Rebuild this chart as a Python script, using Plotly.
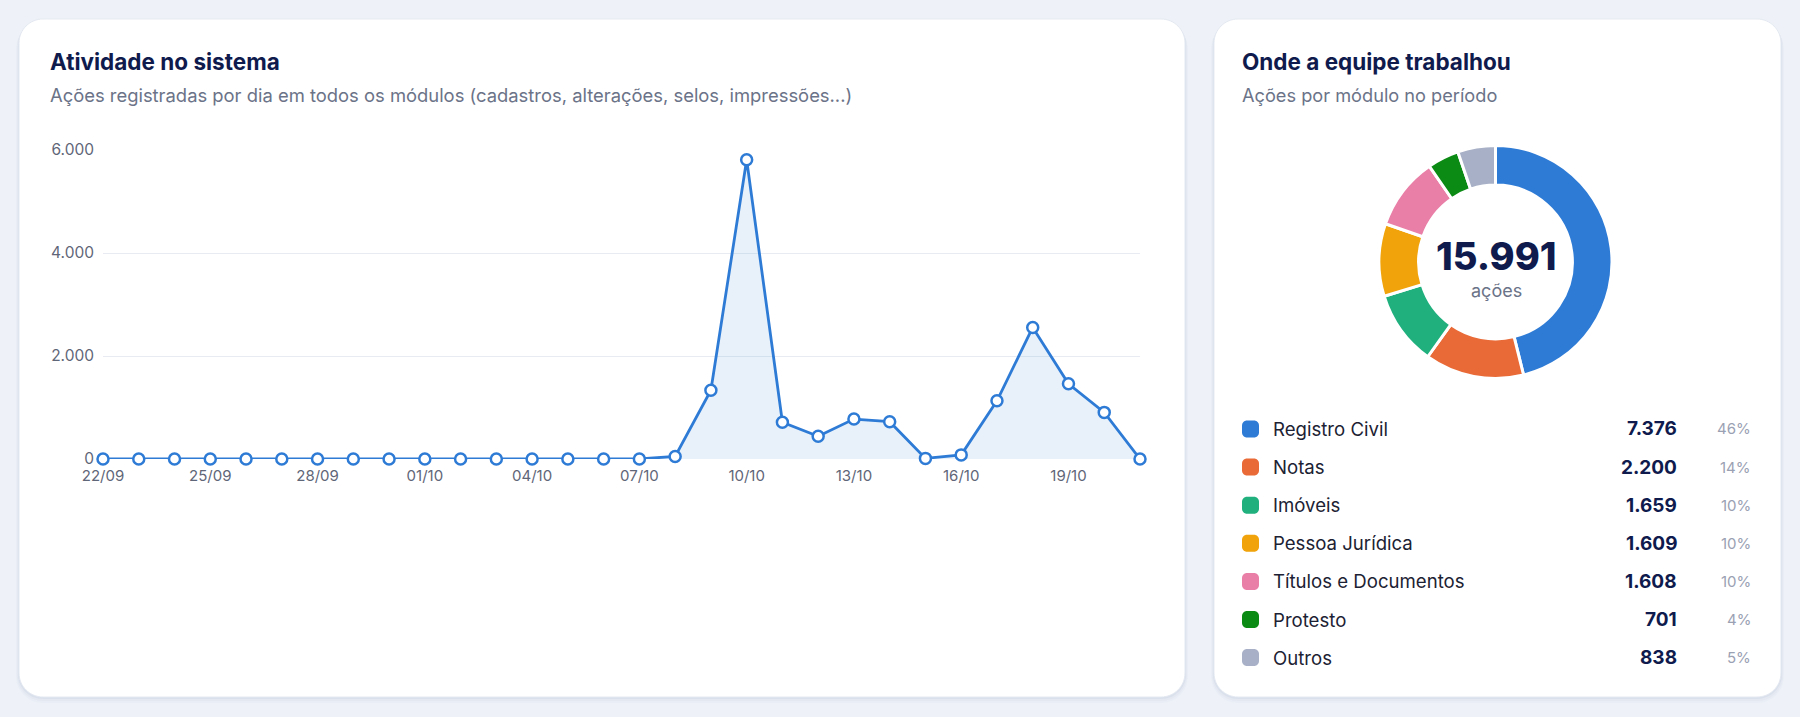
import plotly.graph_objects as go

W, H = 1800, 717

# ---------------- data ----------------
dates = ["22/09", "23/09", "24/09", "25/09", "26/09", "27/09", "28/09", "29/09", "30/09",
         "01/10", "02/10", "03/10", "04/10", "05/10", "06/10", "07/10", "08/10", "09/10",
         "10/10", "11/10", "12/10", "13/10", "14/10", "15/10", "16/10", "17/10", "18/10",
         "19/10", "20/10", "21/10"]
actions = [0, 0, 0, 0, 0, 0, 0, 0, 0,
           0, 0, 0, 0, 0, 0, 0, 50, 1335,
           5810, 715, 440, 775, 725, 12, 80, 1130, 2554,
           1460, 905, 0]
tick_dates = ["22/09", "25/09", "28/09", "01/10", "04/10", "07/10", "10/10", "13/10", "16/10", "19/10"]
y_ticks = [0, 2000, 4000, 6000]

modules = ["Registro Civil", "Notas", "Imóveis", "Pessoa Jurídica", "Títulos e Documentos", "Protesto", "Outros"]
module_values = [7376, 2200, 1659, 1609, 1608, 701, 838]
module_colors = ["#2e7bd6", "#e96a36", "#1fb07e", "#f0a30a", "#e97ea6", "#0b8a14", "#a7b0c6"]

NAVY = "#0f1a4d"
GRAY = "#6b7388"
FONT = "Inter"


def px(x):
    return x / W


def py(y):
    return 1 - y / H


def rrect_path(x0, y0, x1, y1, r):
    k = 0.5523 * r
    def P(x, y):
        return f"{px(x):.6f},{py(y):.6f}"
    s = (f"M {P(x0 + r, y0)} L {P(x1 - r, y0)} "
         f"C {P(x1 - r + k, y0)} {P(x1, y0 + r - k)} {P(x1, y0 + r)} "
         f"L {P(x1, y1 - r)} "
         f"C {P(x1, y1 - r + k)} {P(x1 - r + k, y1)} {P(x1 - r, y1)} "
         f"L {P(x0 + r, y1)} "
         f"C {P(x0 + r - k, y1)} {P(x0, y1 - r + k)} {P(x0, y1 - r)} "
         f"L {P(x0, y0 + r)} "
         f"C {P(x0, y0 + r - k)} {P(x0 + r - k, y0)} {P(x0 + r, y0)} Z")
    return s


fig = go.Figure()

# line chart
fig.add_trace(go.Scatter(
    x=dates, y=actions, mode="lines+markers",
    line=dict(color="#2e7bd6", width=2.8),
    marker=dict(size=11, color="white", line=dict(color="#2e7bd6", width=2.5)),
    fill="tozeroy", fillcolor="rgba(46,123,214,0.11)",
    cliponaxis=False, showlegend=False, hoverinfo="x+y",
))

# donut
total = sum(module_values)
fig.add_trace(go.Pie(
    labels=modules, values=module_values, hole=0.66, sort=False,
    direction="clockwise", rotation=0,
    marker=dict(colors=module_colors, line=dict(color="white", width=3)),
    textinfo="none", showlegend=False,
    domain=dict(x=[px(1379), px(1612)], y=[py(378.5), py(145.5)]),
))

shapes = []
# cards with soft shadow
for (x0, y0, x1, y1) in [(19, 19, 1185, 697), (1214, 19, 1781, 697)]:
    for d, op in [(6, 0.05), (4, 0.07), (2, 0.10)]:
        shapes.append(dict(type="path", xref="paper", yref="paper",
                           path=rrect_path(x0 - d / 2, y0 + d / 2, x1 + d / 2, y1 + d, 24 + d / 2),
                           fillcolor=f"rgba(150,165,195,{op})",
                           line=dict(width=0), layer="below"))
    shapes.append(dict(type="path", xref="paper", yref="paper",
                       path=rrect_path(x0, y0, x1, y1, 24), fillcolor="white",
                       line=dict(color="#e4e9f1", width=1), layer="below"))

annotations = []
def txt(x, y, text, size, color, weight=400, xanchor="left"):
    annotations.append(dict(x=px(x), y=py(y), xref="paper", yref="paper", text=text,
                            showarrow=False, xanchor=xanchor, yanchor="middle",
                            font=dict(family=FONT, size=size, color=color, weight=weight)))

txt(48, 61, "Atividade no sistema", 22.5, NAVY, 700)
txt(48, 95, "Ações registradas por dia em todos os módulos (cadastros, alterações, selos, impressões...)", 18.4, GRAY)
txt(1240, 61, "Onde a equipe trabalhou", 22.5, NAVY, 700)
txt(1240, 95, "Ações por módulo no período", 18.2, GRAY)

def fmt(v):
    return f"{v:,}".replace(",", ".")

txt(1496, 256, fmt(total), 38, NAVY, 800, "center")
txt(1496, 290, "ações", 18, GRAY, 400, "center")

for i, (m, v, c) in enumerate(zip(modules, module_values, module_colors)):
    yc = 429 + i * 38.1
    shapes.append(dict(type="path", xref="paper", yref="paper",
                       path=rrect_path(1242, yc - 8.5, 1259, yc + 8.5, 5), fillcolor=c,
                       line=dict(width=0)))
    txt(1271, yc, m, 18.6, "#1c2233")
    txt(1679, yc, fmt(v), 19, NAVY, 700, "right")
    txt(1753, yc, f"{round(v / total * 100)}%", 15, "#9aa1b3", 400, "right")

fig.update_layout(
    width=W, height=H, margin=dict(l=0, r=0, t=0, b=0, autoexpand=False),
    paper_bgcolor="#eef2f8", plot_bgcolor="rgba(0,0,0,0)",
    separators=",.",
    font=dict(family=FONT),
    shapes=shapes, annotations=annotations,
    xaxis=dict(domain=[px(103), px(1140)], type="category", range=[0, len(dates) - 1],
               tickmode="array", tickvals=tick_dates, ticktext=tick_dates,
               showgrid=False, zeroline=False, showline=False, ticks="", automargin=False,
               tickfont=dict(family=FONT, size=15, color="#5f6678"), ticklabelstandoff=6),
    yaxis=dict(domain=[py(459), py(150)], range=[0, 6000], tickvals=y_ticks, tickformat=",d",
               showgrid=True, gridcolor="#e8ecf2", gridwidth=1, zeroline=False, showline=False,
               ticks="", automargin=False,
               tickfont=dict(family=FONT, size=15.5, color="#5f6678"), ticklabelstandoff=8),
)

fig.write_html("out.html")
